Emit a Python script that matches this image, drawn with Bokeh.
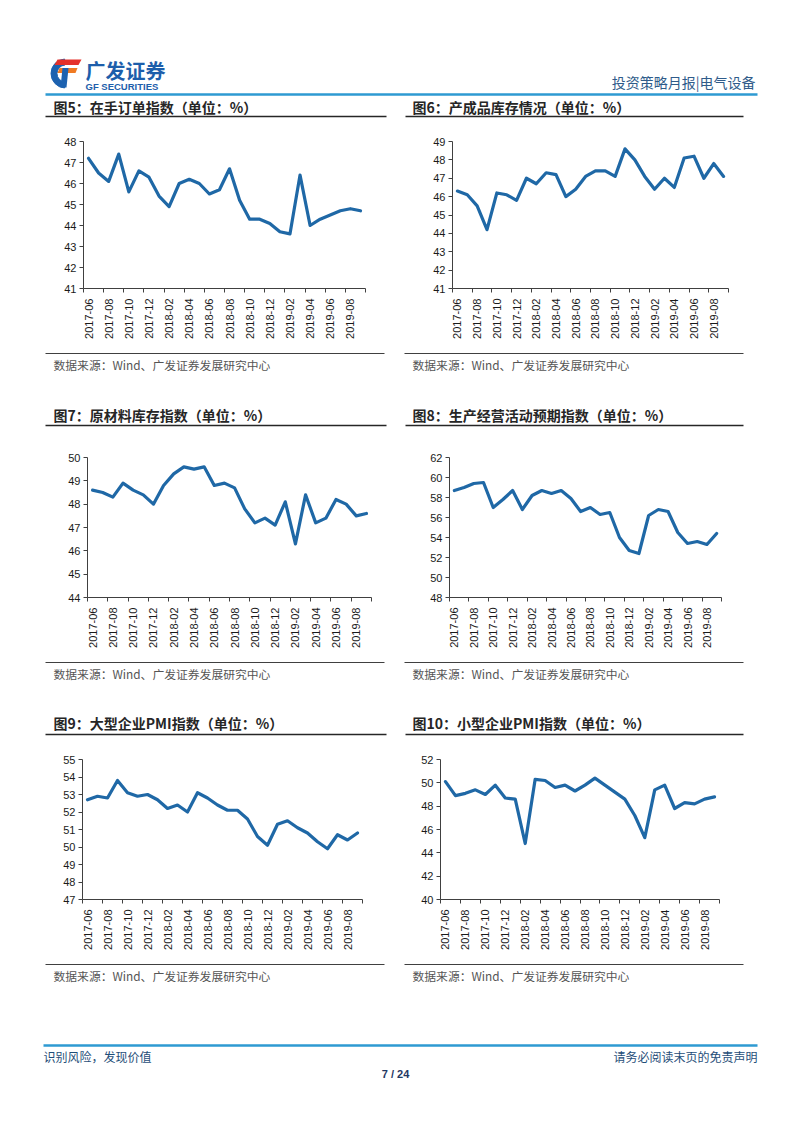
import math
from bokeh.plotting import figure
from bokeh.layouts import column, row
from bokeh.models import Range1d, FixedTicker
from bokeh.core.properties import value
from bokeh.embed import file_html
from bokeh.resources import INLINE

# ---------------- data ----------------
months = ["2017-06", "2017-07", "2017-08", "2017-09", "2017-10", "2017-11", "2017-12",
          "2018-01", "2018-02", "2018-03", "2018-04", "2018-05", "2018-06", "2018-07",
          "2018-08", "2018-09", "2018-10", "2018-11", "2018-12", "2019-01", "2019-02",
          "2019-03", "2019-04", "2019-05", "2019-06", "2019-07", "2019-08", "2019-09"]

backlog_orders = [47.2, 46.5, 46.1, 47.4, 45.6, 46.6, 46.3, 45.4, 44.9, 46.0, 46.2, 46.0, 45.5, 45.7,
                  46.7, 45.2, 44.3, 44.3, 44.1, 43.7, 43.6, 46.4, 44.0, 44.3, 44.5, 44.7, 44.8, 44.7]
finished_goods = [46.3, 46.1, 45.5, 44.2, 46.2, 46.1, 45.8, 47.0, 46.7, 47.3, 47.2, 46.0, 46.4, 47.1,
                  47.4, 47.4, 47.1, 48.6, 48.0, 47.1, 46.4, 47.0, 46.5, 48.1, 48.2, 47.0, 47.8, 47.1]
raw_materials = [48.6, 48.5, 48.3, 48.9, 48.6, 48.4, 48.0, 48.8, 49.3, 49.6, 49.5, 49.6, 48.8, 48.9,
                 48.7, 47.8, 47.2, 47.4, 47.1, 48.1, 46.3, 48.4, 47.2, 47.4, 48.2, 48.0, 47.5, 47.6]
expectations = [58.7, 59.0, 59.4, 59.5, 57.0, 57.8, 58.7, 56.8, 58.2, 58.7, 58.4, 58.7, 57.9, 56.6,
                57.0, 56.3, 56.5, 54.0, 52.7, 52.4, 56.2, 56.8, 56.6, 54.5, 53.4, 53.6, 53.3, 54.4]
large_pmi = [52.7, 52.9, 52.8, 53.8, 53.1, 52.9, 53.0, 52.7, 52.2, 52.4, 52.0, 53.1, 52.8, 52.4,
             52.1, 52.1, 51.6, 50.6, 50.1, 51.3, 51.5, 51.1, 50.8, 50.3, 49.9, 50.7, 50.4, 50.8]
small_pmi = [50.1, 48.9, 49.1, 49.4, 49.0, 49.8, 48.7, 48.6, 44.8, 50.3, 50.2, 49.6, 49.8, 49.3,
             49.8, 50.4, 49.8, 49.2, 48.6, 47.2, 45.3, 49.4, 49.8, 47.8, 48.3, 48.2, 48.6, 48.8]

titles = ["图5：在手订单指数（单位：%）", "图6：产成品库存情况（单位：%）",
          "图7：原材料库存指数（单位：%）", "图8：生产经营活动预期指数（单位：%）",
          "图9：大型企业PMI指数（单位：%）", "图10：小型企业PMI指数（单位：%）"]
source_text = "数据来源：Wind、广发证券发展研究中心"

# ---------------- style ----------------
LINE = "#1f68a6"
CJK = "Noto Sans CJK SC"
LAT = "Liberation Sans"
RULE_BLUE = "#2e9ad2"
DARK = "#262626"
PAGE_W = 786
SPLIT = 397


def strip(top, bottom):
    p = figure(width=PAGE_W, height=bottom - top, x_range=Range1d(0, PAGE_W), y_range=Range1d(bottom, top),
               output_backend="svg", toolbar_location=None, min_border=0,
               x_axis_type=None, y_axis_type=None, outline_line_color=None,
               background_fill_color="white", border_fill_color="white")
    for g in p.grid:
        g.visible = False
    return p


def txt(p, x, y, s, size, color, font=CJK, style="normal", align="left"):
    p.text(x=[x], y=[y], text=[s], text_font=value(font), text_font_size=value(f"{size}px"),
           text_font_style=style, text_color=color, text_align=align, text_baseline="middle")


def rule(p, x0, x1, y, color, w):
    p.segment(x0=[x0], y0=[y], x1=[x1], y1=[y], line_color=color, line_width=w)


def titles_row(p, y_text, y_line, left, right):
    txt(p, 53, y_text, left, 14, DARK, style="bold")
    txt(p, 412, y_text, right, 14, DARK, style="bold")
    rule(p, 45, 386, y_line, DARK, 1.3)
    rule(p, 405, 743, y_line, DARK, 1.3)


def sources_row(p, y_line, y_text):
    rule(p, 45, 384, y_line, "#404040", 1)
    rule(p, 404, 743, y_line, "#404040", 1)
    txt(p, 53, y_text, source_text, 11.8, "#555555")
    txt(p, 412, y_text, source_text, 11.8, "#555555")


def chart(vals, lo, hi, step, side, frame_l, frame_r, bt, bb, h):
    n = len(vals)
    if side == "left":
        w, bl, br = SPLIT, frame_l, SPLIT - frame_r
    else:
        w, bl, br = PAGE_W - SPLIT, frame_l - SPLIT, PAGE_W - frame_r
    p = figure(width=w, height=h, x_range=Range1d(-0.5, n - 0.5), y_range=Range1d(lo, hi),
               output_backend="svg", toolbar_location=None,
               min_border_left=bl, min_border_right=br, min_border_top=bt, min_border_bottom=bb,
               outline_line_color=None, background_fill_color="white", border_fill_color="white")
    p.line(x=list(range(n)), y=vals, line_color=LINE, line_width=3.2,
           line_join="round", line_cap="round")
    for g in p.grid:
        g.visible = False
    xa = p.xaxis[0]
    xa.ticker = FixedTicker(ticks=list(range(0, n, 2)),
                            minor_ticks=[k - 0.5 for k in range(0, n + 1, 2)])
    xa.major_label_overrides = {i: months[i] for i in range(0, n, 2)}
    xa.major_label_orientation = math.pi / 2
    xa.major_tick_out = 0
    xa.major_tick_in = 0
    xa.minor_tick_out = 4
    xa.minor_tick_in = 0
    xa.minor_tick_line_color = "#404040"
    xa.axis_line_color = "#404040"
    xa.major_label_text_font = LAT
    xa.major_label_text_font_size = "11px"
    xa.major_label_text_color = "#1a1a1a"
    xa.major_label_standoff = 6
    ya = p.yaxis[0]
    ya.ticker = FixedTicker(ticks=list(range(lo, hi + 1, step)), minor_ticks=[])
    ya.major_tick_out = 4
    ya.major_tick_in = 0
    ya.minor_tick_out = 0
    ya.minor_tick_in = 0
    ya.major_tick_line_color = "#404040"
    ya.axis_line_color = "#404040"
    ya.major_label_text_font = LAT
    ya.major_label_text_font_size = "11px"
    ya.major_label_text_color = "#1a1a1a"
    ya.major_label_standoff = 3
    return p


# ---------------- header ----------------
head = strip(0, 125)
head.annular_wedge(x=[65], y=[73], inner_radius=8.5, outer_radius=14.5,
                   start_angle=math.pi * 0.52, end_angle=math.pi * 1.48, color="#1d62b0")
head.patches(xs=[[57, 81, 78, 54], [59, 77, 75, 57], [62, 68, 66, 60]],
             ys=[[59, 59, 64.5, 64.5], [67.5, 67.5, 72.5, 72.5], [67.5, 67.5, 87, 87]],
             fill_color=["#e5312a", "#f07a22", "#1d62b0"], line_color=None)
txt(head, 85, 70, "广发证券", 20, "#1d5eab", style="bold")
txt(head, 85, 86, "GF SECURITIES", 9.5, "#1d5eab", font=LAT, style="bold")
txt(head, 755, 81, "投资策略月报|电气设备", 14, "#2f5b8a", align="right")
rule(head, 45, 757, 94, RULE_BLUE, 2.5)
titles_row(head, 106, 116, titles[0], titles[1])

# ---------------- charts ----------------
c1 = chart(backlog_orders, 41, 48, 1, "left", 83, 365, 16, 57, 220)
c2 = chart(finished_goods, 41, 49, 1, "right", 452, 728, 15, 57, 220)

sa = strip(345, 435)
sources_row(sa, 353, 364)
titles_row(sa, 414, 425, titles[2], titles[3])

c3 = chart(raw_materials, 44, 50, 1, "left", 87, 371, 22, 58, 220)
c4 = chart(expectations, 48, 62, 2, "right", 449, 721, 12, 58, 220)

sb = strip(655, 745)
sources_row(sb, 662, 673)
titles_row(sb, 722, 734, titles[4], titles[5])

c5 = chart(large_pmi, 47, 55, 1, "left", 82, 362, 11, 56, 213)
c6 = chart(small_pmi, 40, 52, 2, "right", 440, 719, 14, 59, 213)

sc = strip(958, 1125)
sources_row(sc, 964, 975)
rule(sc, 43, 757, 1045, RULE_BLUE, 2.5)
txt(sc, 43, 1056, "识别风险，发现价值", 12, "#1f4e79")
txt(sc, 757, 1056, "请务必阅读末页的免责声明", 12, "#1f4e79", align="right")
txt(sc, 395, 1073, "7 / 24", 11, "#1f3864", font=LAT, style="bold", align="center")

page = column(head, row(c1, c2), sa, row(c3, c4), sb, row(c5, c6), sc)

open("out.html", "w").write(file_html(page, INLINE))
